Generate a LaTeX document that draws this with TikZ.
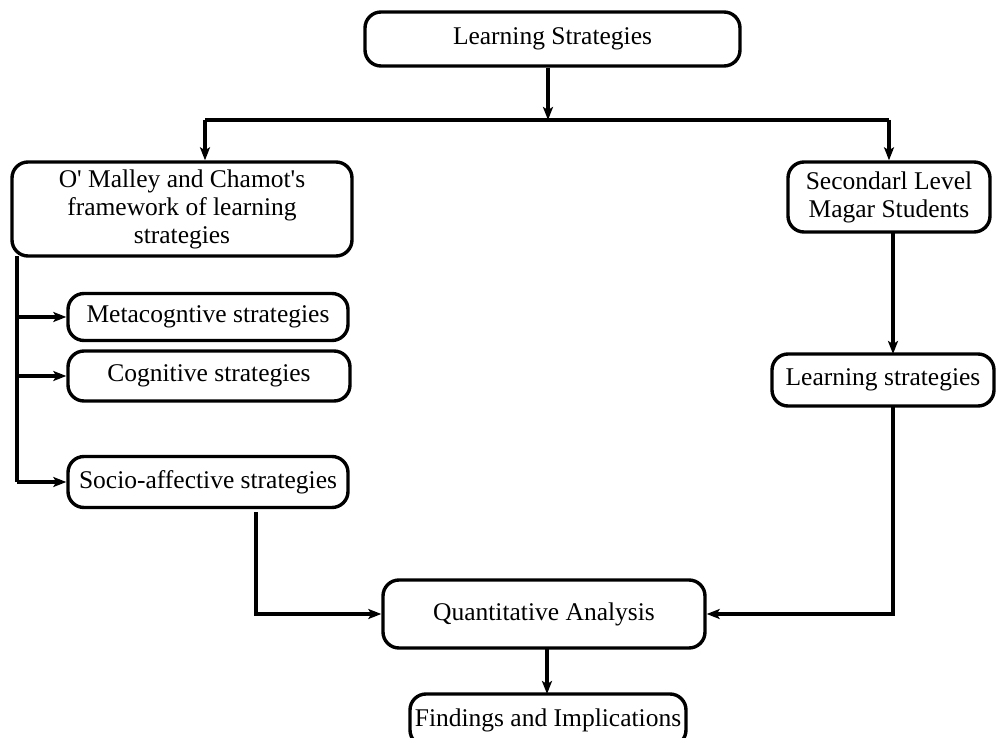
\documentclass[tikz,border=0pt]{standalone}
\usepackage{fontspec}
\setmainfont{Liberation Serif}[Ligatures=TeXOff]
\usetikzlibrary{arrows.meta}
\begin{document}
\begin{tikzpicture}[x=1pt,y=-1pt,
  box/.style={draw, line width=3.4pt, rounded corners=16pt, inner sep=0pt,
    align=center, font=\fontsize{25.5}{28}\selectfont},
  conn/.style={line width=3.4pt},
  arr/.style={conn, -{Stealth[length=13pt,width=10pt,inset=3pt]}}]
\useasboundingbox (0,0) rectangle (996,738);
\node[box, minimum width=375, minimum height=54] (top) at (552.5,39) {Learning Strategies};
\node[box, minimum width=340, minimum height=94] (om) at (182,209)
  {O' Malley and Chamot's\\framework of learning\\strategies};
\node[box, minimum width=280, minimum height=47] (meta) at (208,317) {Metacogntive strategies};
\node[box, minimum width=282, minimum height=50] (cog) at (209,376) {Cognitive strategies};
\node[box, minimum width=280, minimum height=51] (soc) at (208,482) {Socio-affective strategies};
\node[box, minimum width=202, minimum height=70] (sec) at (889,197) {Secondarl Level\\Magar Students};
\node[box, minimum width=222, minimum height=52] (ls) at (883,380) {Learning strategies};
\node[box, minimum width=322, minimum height=68] (qa) at (544,614) {Quantitative Analysis};
\node[box, minimum width=276, minimum height=52] (fi) at (548,720) {Findings and Implications};
% top branch
\coordinate (hub) at (548,120);
\coordinate (hl) at (205,120);
\coordinate (hr) at (889,120);
\draw[arr] (top.south -| hub) -- (hub);
\draw[conn] (hl) -- (hr);
\draw[arr] (hl) -- (hl |- om.north);
\draw[arr] (hr) -- (hr |- sec.north);
% left bus
\coordinate (bs) at (17,256);
\coordinate (be) at (17,482);
\draw[conn] (bs) -- (be);
\draw[arr] (bs |- meta.west) -- (meta.west);
\draw[arr] (bs |- cog.west) -- (cog.west);
\draw[arr] (be) -- (soc.west);
% to analysis
\coordinate (s1) at (256,512);
\draw[arr] (s1) -- (s1 |- qa.west) -- (qa.west);
\coordinate (r1) at (893,406);
\draw[arr] (893,232) -- (893,354);
\draw[arr] (r1) -- (r1 |- qa.east) -- (qa.east);
\draw[arr] (547,648) -- (547,694);
\end{tikzpicture}
\end{document}
